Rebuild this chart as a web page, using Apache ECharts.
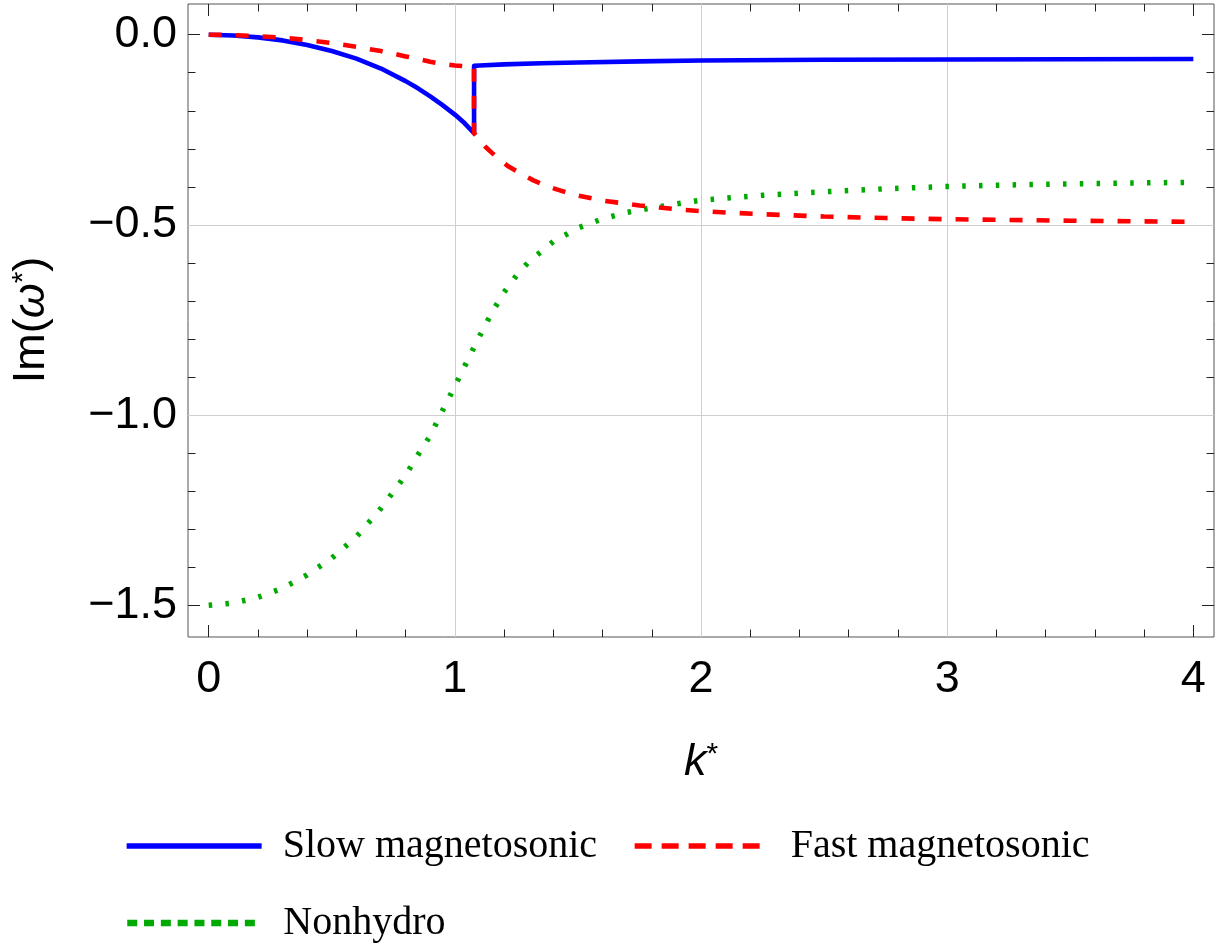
<!DOCTYPE html>
<html>
<head>
<meta charset="utf-8">
<script src="https://cdn.jsdelivr.net/npm/echarts@6/dist/echarts.min.js"></script>
<style>
html,body{margin:0;padding:0;background:#fff;}
#main{width:1222px;height:948px;}
</style>
</head>
<body>
<div id="main"></div>
<script>
// ---- data ----
const seriesNames = ['Slow magnetosonic', 'Fast magnetosonic', 'Nonhydro'];

const slowK = [0, 0.1, 0.2, 0.3, 0.4, 0.5, 0.6, 0.7, 0.8, 0.85, 0.9, 0.95, 1.0, 1.04, 1.078,
               1.078, 1.1, 1.2, 1.35, 1.5, 1.75, 2.0, 2.5, 3.0, 3.5, 4.0];
const slowV = [0, -0.002, -0.007, -0.015, -0.027, -0.043, -0.063, -0.089, -0.122, -0.141, -0.162, -0.185, -0.210, -0.233, -0.259,
               -0.082, -0.081, -0.078, -0.075, -0.073, -0.070, -0.068, -0.066, -0.065, -0.0645, -0.064];

const fastK = [0, 0.1, 0.2, 0.3, 0.4, 0.5, 0.6, 0.7, 0.8, 0.9, 0.95, 1.0, 1.04, 1.078,
               1.078, 1.1, 1.129, 1.17, 1.217, 1.27, 1.319, 1.37, 1.42, 1.5, 1.6, 1.75, 1.9, 2.0, 2.25, 2.5, 2.75, 3.0, 3.5, 4.0];
const fastV = [0, -0.001, -0.004, -0.008, -0.014, -0.022, -0.032, -0.043, -0.057, -0.071, -0.077, -0.081, -0.083, -0.084,
               -0.259, -0.277, -0.298, -0.322, -0.346, -0.366, -0.383, -0.397, -0.408, -0.423, -0.436, -0.449, -0.459, -0.464, -0.472, -0.478, -0.482, -0.485, -0.489, -0.492];

const nonhK = [0, 0.1, 0.2, 0.3, 0.4, 0.5, 0.6, 0.7, 0.8, 0.85, 0.9, 0.95, 1.0, 1.05, 1.1, 1.15, 1.2, 1.25, 1.3, 1.4, 1.5,
               1.6, 1.7, 1.8, 1.9, 2.0, 2.25, 2.5, 2.75, 3.0, 3.25, 3.5, 3.75, 4.0];
const nonhV = [-1.500, -1.494, -1.479, -1.455, -1.420, -1.376, -1.320, -1.245, -1.158, -1.105, -1.054, -0.988, -0.924, -0.858, -0.793, -0.731, -0.677, -0.633, -0.597, -0.544, -0.508,
               -0.484, -0.467, -0.455, -0.445, -0.435, -0.422, -0.413, -0.405, -0.399, -0.395, -0.392, -0.390, -0.388];

const xTickValues = [0, 1, 2, 3, 4];
const yTickValues = [0, -0.5, -1.0, -1.5];
const gridX = [1, 2, 3];
const gridY = [-0.5, -1.0];

// ---- layout ----
const L = 188, T = 4, W = 1026, H = 633;
const XMIN = -0.0841, XMAX = 4.084, YMIN = -1.5833, YMAX = 0.0807;
function px(x) { return L + (x - XMIN) / (XMAX - XMIN) * W; }
function py(y) { return T + (YMAX - y) / (YMAX - YMIN) * H; }
const tx0 = px(xTickValues[0]), tx1 = px(xTickValues[xTickValues.length - 1]);
const ty0 = py(yTickValues[0]), ty1 = py(yTickValues[yTickValues.length - 1]);

function pairs(ks, vs) { return ks.map((k, i) => [k, vs[i]]); }

const SANS = 'Liberation Sans';
const SERIF = 'Liberation Serif';
const tickCol = '#222';

function tickAxisCommon() {
  return {
    gridIndex: 1,
    type: 'value',
    axisLine: { show: false, onZero: false },
    axisTick: { show: true, inside: true, length: 12, lineStyle: { color: tickCol, width: 1 } },
    minorTick: { show: true, splitNumber: 5, length: 7.5, lineStyle: { color: tickCol, width: 1 } },
    splitLine: { show: false },
    minorSplitLine: { show: false }
  };
}

const chart = echarts.init(document.getElementById('main'), null, { renderer: 'canvas' });

const legendCommon = {
  padding: 0, itemHeight: 20, selectedMode: false,
  itemStyle: { opacity: 0, color: 'rgba(0,0,0,0)', borderWidth: 0 }
};

const option = {
  animation: false,
  backgroundColor: '#fff',
  grid: [
    { left: L, top: T, width: W, height: H, show: true, borderColor: '#555', borderWidth: 1,
      backgroundColor: 'transparent', containLabel: false, outerBoundsMode: 'none' },
    { left: tx0, top: ty0, width: tx1 - tx0, height: ty1 - ty0, containLabel: false, outerBoundsMode: 'none' }
  ],
  xAxis: [
    { gridIndex: 0, type: 'value', min: XMIN, max: XMAX, show: false, splitLine: { show: false },
      axisLine: { onZero: false } },
    Object.assign(tickAxisCommon(), {
      position: 'bottom', min: xTickValues[0], max: xTickValues[xTickValues.length - 1], interval: 1,
      offset: (T + H) - ty1,
      axisLabel: { show: true, fontFamily: SANS, fontSize: 45, color: '#000', margin: 20,
        showMinLabel: true, showMaxLabel: true, formatter: v => String(v) },
      name: '{i|k}{s|*}',
      nameLocation: 'middle',
      nameGap: 103,
      nameMoveOverlap: false,
      nameTextStyle: {
        rich: {
          i: { fontFamily: SANS, fontSize: 45, fontStyle: 'italic', color: '#000' },
          s: { fontFamily: SANS, fontSize: 30, color: '#000', verticalAlign: 'top' }
        }
      }
    }),
    Object.assign(tickAxisCommon(), {
      position: 'top', min: xTickValues[0], max: xTickValues[xTickValues.length - 1], interval: 1,
      offset: ty0 - T,
      axisLabel: { show: false }
    })
  ],
  yAxis: [
    { gridIndex: 0, type: 'value', min: YMIN, max: YMAX, show: false, splitLine: { show: false },
      axisLine: { onZero: false } },
    Object.assign(tickAxisCommon(), {
      position: 'left', min: yTickValues[yTickValues.length - 1], max: yTickValues[0], interval: 0.5,
      offset: tx0 - L,
      axisLabel: { show: true, fontFamily: SANS, fontSize: 45, color: '#000', margin: 11,
        showMinLabel: true, showMaxLabel: true,
        formatter: v => (Math.abs(v) < 1e-9 ? '0.0' : (v < 0 ? '\u2212' : '') + Math.abs(v).toFixed(1)) },
      name: '{a|Im(}{b|\u03C9}{s|*}{a|)}',
      nameLocation: 'middle',
      nameRotate: 90,
      nameGap: 134,
      nameMoveOverlap: false,
      nameTextStyle: {
        rich: {
          a: { fontFamily: SANS, fontSize: 45, color: '#000' },
          b: { fontFamily: SANS, fontSize: 45, fontStyle: 'italic', color: '#000' },
          s: { fontFamily: SANS, fontSize: 30, color: '#000', verticalAlign: 'top' }
        }
      }
    }),
    Object.assign(tickAxisCommon(), {
      position: 'right', min: yTickValues[yTickValues.length - 1], max: yTickValues[0], interval: 0.5,
      offset: (L + W) - tx1,
      axisLabel: { show: false }
    })
  ],
  legend: [
    Object.assign({}, legendCommon, {
      data: [seriesNames[0]], left: 124, top: 826, itemWidth: 135,
      lineStyle: { width: 5.3 },
      textStyle: { fontFamily: SERIF, fontSize: 40, color: '#000', padding: [0, 0, 0, 16] } }),
    Object.assign({}, legendCommon, {
      data: [seriesNames[1]], left: 632, top: 826, itemWidth: 125,
      lineStyle: { width: 5.3, type: [17, 10] },
      textStyle: { fontFamily: SERIF, fontSize: 40, color: '#000', padding: [0, 0, 0, 26] } }),
    Object.assign({}, legendCommon, {
      data: [seriesNames[2]], left: 124, top: 903, itemWidth: 128,
      lineStyle: { width: 6.5, type: [10, 6.8] },
      textStyle: { fontFamily: SERIF, fontSize: 40, color: '#000', padding: [0, 0, 0, 23] } })
  ],
  series: [
    {
      name: seriesNames[2], type: 'line', xAxisIndex: 0, yAxisIndex: 0,
      data: pairs(nonhK, nonhV), symbol: 'none', smooth: false, z: 3,
      lineStyle: { color: '#00AA00', width: 5.5, type: [3.5, 13.3], cap: 'butt' },
      itemStyle: { color: '#00AA00' },
      markLine: {
        silent: true, z: 1, symbol: ['none', 'none'], animation: false,
        label: { show: false },
        lineStyle: { color: '#cfcfcf', width: 1, type: 'solid' },
        emphasis: { disabled: true },
        data: gridX.map(v => ({ xAxis: v })).concat(gridY.map(v => ({ yAxis: v })))
      }
    },
    {
      name: seriesNames[0], type: 'line', xAxisIndex: 0, yAxisIndex: 0,
      data: pairs(slowK, slowV), symbol: 'none', smooth: false, z: 4,
      lineStyle: { color: '#0000FF', width: 4.6, type: 'solid', join: 'round' },
      itemStyle: { color: '#0000FF' }
    },
    {
      name: seriesNames[1], type: 'line', xAxisIndex: 0, yAxisIndex: 0,
      data: pairs(fastK, fastV), symbol: 'none', smooth: false, z: 5,
      lineStyle: { color: '#FF0000', width: 4.6, type: [13, 14], cap: 'butt' },
      itemStyle: { color: '#FF0000' }
    }
  ]
};

chart.setOption(option);
</script>
</body>
</html>
